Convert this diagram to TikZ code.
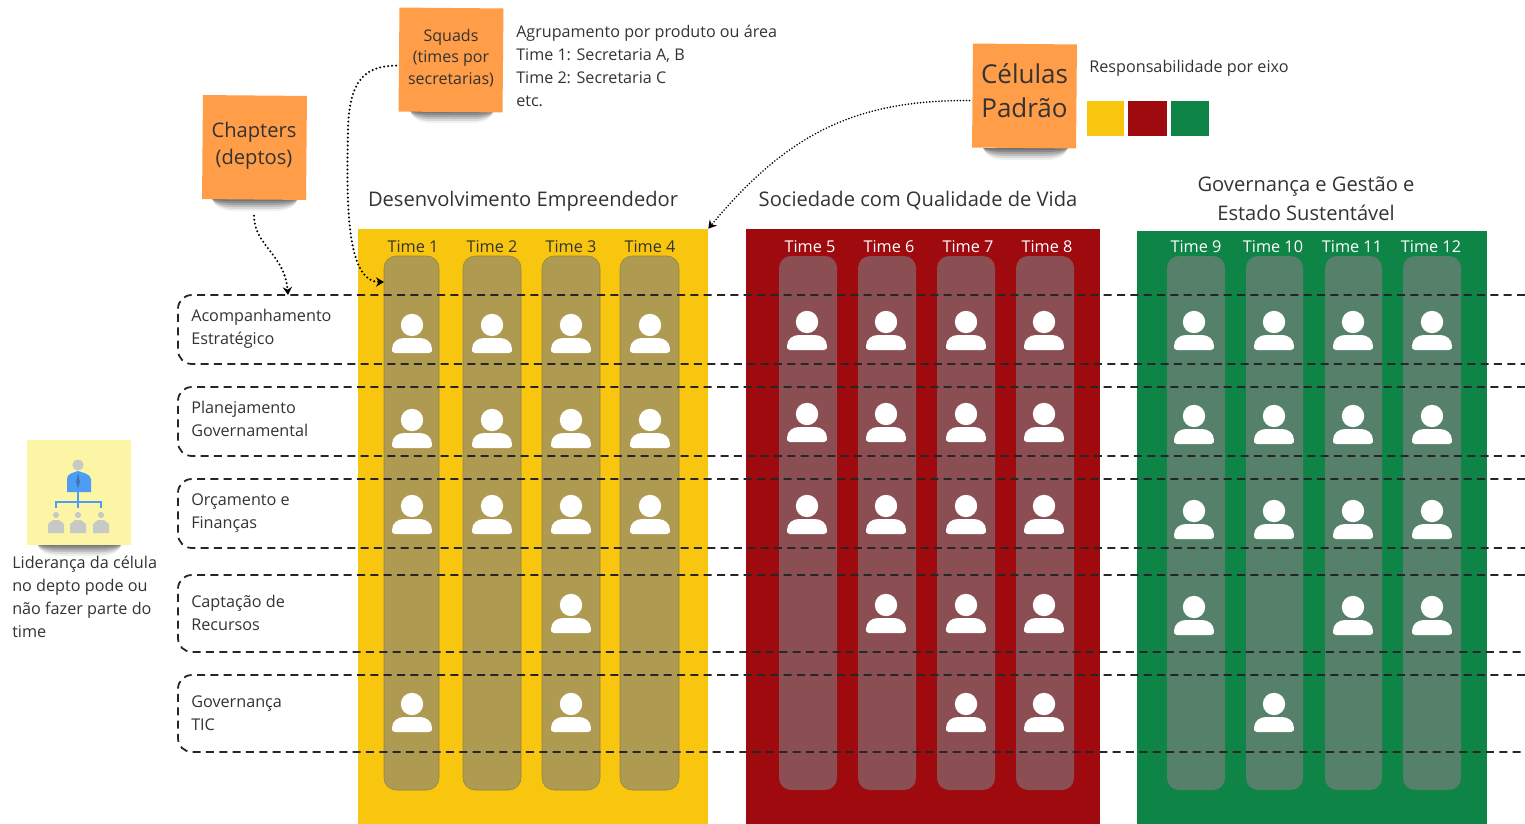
\documentclass[tikz,border=0pt]{standalone}
\usepackage{fontspec}
\setmainfont{Open Sans}
\usetikzlibrary{arrows.meta,calc}
\definecolor{ink}{HTML}{333333}
\definecolor{axisY}{HTML}{F9C60F}
\definecolor{axisR}{HTML}{9E0A0E}
\definecolor{axisG}{HTML}{0E8446}
\definecolor{colY}{HTML}{AE9A50}
\definecolor{colR}{HTML}{8B4E52}
\definecolor{colG}{HTML}{558069}
\definecolor{sticky}{HTML}{FF9D48}
\definecolor{stickyY}{HTML}{FDF5A6}
\definecolor{iconB}{HTML}{4D9DF5}
\definecolor{iconG}{HTML}{C6C9C6}
\tikzset{
  x=0.75pt,y=-0.75pt,
  txt/.style={text=ink,inner sep=0pt,align=left,anchor=west,font=\fontsize{12.15}{17.25}\selectfont},
  title/.style={text=ink,inner sep=0pt,align=center,font=\fontsize{15.1}{21.5}\selectfont},
  timeY/.style={text=black!80,inner sep=0pt,font=\fontsize{12.2}{14}\selectfont},
  timeW/.style={text=white,inner sep=0pt,font=\fontsize{12.2}{14}\selectfont},
  note/.style={fill=sticky,inner sep=0pt,rotate=-0.5,minimum width=78pt,minimum height=78pt},
  notetext/.style={text=ink,inner sep=0pt,align=center},
  band/.style={black!85,line width=1.35pt,dash pattern=on 6pt off 4pt},
  link/.style={black,line width=1.7pt,line cap=round,dash pattern=on 0pt off 3pt,-{Stealth[length=6pt,width=7pt]}},
  finelink/.style={link,line width=1.35pt,dash pattern=on 0pt off 2.3pt},
  person/.pic={
    \fill[white] (0,-9) circle[radius=8.4pt];
    \fill[white] (-17,19) -- (17,19) .. controls (20,19) and (20,17) .. (20,15) .. controls (20,8) and (14,4) .. (8,4) -- (-8,4) .. controls (-14,4) and (-20,8) .. (-20,15) .. controls (-20,17) and (-20,19) .. (-17,19) -- cycle;
  },
  smallman/.pic={
    \fill[iconG] (0,-5) circle[radius=2.3pt];
    \fill[iconG] (-8,13) -- (-8,4) -- (-3,0) -- (3,0) -- (8,4) -- (8,13) -- cycle;
  }
}
\newcommand{\blockat}[7]{\node[#2,inner sep=0pt,minimum width={(#4-#3)*0.75pt},minimum height={(#6-#5)*0.75pt},#7] (#1) at ({(#3+#4)/2},{(#5+#6)/2}) {};}
\newcommand{\bandpath}[2]{%
  \draw[band] (1525,#1) -- (192,#1) .. controls (184,#1) and (178,{#1+6}) .. (178,{#1+14}) -- (178,{#2-14}) .. controls (178,{#2-6}) and (184,#2) .. (192,#2) -- (1525,#2);}
\newcommand{\noteshadow}[3]{%
  \foreach \d/\o in {2/.16,4/.16,6/.14,8/.12,10/.09,12/.06}
    {\fill[black,opacity=\o] (#1,#3) -- (#2,#3) .. controls ({#2-2},{#3+\d*.6}) and ({#2-10},{#3+\d}) .. ({#2-22},{#3+\d}) -- ({#1+22},{#3+\d}) .. controls ({#1+10},{#3+\d}) and ({#1+2},{#3+\d*.6}) .. (#1,#3) -- cycle;}}
\begin{document}
\begin{tikzpicture}
\useasboundingbox (0,0) rectangle (1525,824);
\clip (0,0) rectangle (1525,824);
% axis blocks
\blockat{axisA}{fill=axisY}{358}{708}{229}{824}{}
\blockat{axisB}{fill=axisR}{746}{1100}{229}{824}{}
\blockat{axisC}{fill=axisG}{1137}{1487}{231}{824}{}
% team columns
\foreach \n/\a/\b in {t1/384/439,t2/463/521,t3/542/600,t4/620/679}
  {\blockat{\n}{fill=colY,draw=black!15!colY,line width=.4pt,rounded corners=9pt}{\a}{\b}{256}{790}{}}
\foreach \n/\a/\b in {t5/779/837,t6/858/916,t7/937/995,t8/1016/1074}
  {\blockat{\n}{fill=colR,rounded corners=9pt}{\a}{\b}{256}{790}{}}
\foreach \n/\a/\b in {t9/1167/1225,t10/1246/1303,t11/1325/1382,t12/1403/1461}
  {\blockat{\n}{fill=colG,rounded corners=9pt}{\a}{\b}{256}{790}{}}
% team labels
\foreach \x/\t in {413/Time 1,492/Time 2,571/Time 3,650/Time 4}
  {\node[timeY] (lab\x) at (\x,247) {\t};}
\foreach \x/\t in {810/Time 5,889/Time 6,968/Time 7,1047/Time 8,1196/Time 9,1273/Time 10,1352/Time 11,1431/Time 12}
  {\node[timeW] (lab\x) at (\x,247) {\t};}
% dashed rows
\bandpath{295}{364}
\bandpath{387}{456}
\bandpath{479}{548}
\bandpath{575}{652}
\bandpath{675}{752}
% row labels
\node[txt] (r1) at (191,329) {Acompanhamento\\Estratégico};
\node[txt] (r2) at (191,418.5) {Planejamento\\Governamental};
\node[txt] (r3) at (191,513.5) {Orçamento e\\Finanças};
\node[txt] (r4) at (191,612.5) {Captação de\\Recursos};
\node[txt] (r5) at (191,713.5) {Governança\\TIC};
% people
\foreach \x/\y in {412/334,492/334,571/334,650/334,412/429,492/429,571/429,650/429,412/515,492/515,571/515,650/515,571/614,412/713,571/713,
  807/331,886/331,966/331,1044/331,807/423,886/423,966/423,1044/423,807/515,886/515,966/515,1044/515,886/614,966/614,1044/614,966/713,1044/713,
  1194/331,1274/331,1353/331,1432/331,1194/425,1274/425,1353/425,1432/425,1194/520,1274/520,1353/520,1432/520,1194/616,1353/616,1432/616,1274/713}
  {\pic at (\x,\y) {person};}
% section titles
\node[title] (s1) at (523,201) {Desenvolvimento Empreendedor};
\node[title] (s2) at (918,201) {Sociedade com Qualidade de Vida};
\node[title] (s3) at (1306,199) {Governança e Gestão e\\Estado Sustentável};
% sticky notes
\noteshadow{212}{298}{199}
\noteshadow{410}{494}{111}
\noteshadow{983}{1068}{148}
\noteshadow{37}{122}{544}
\node[note] (chapters) at (254.5,147.5) {};
\node[notetext,font=\fontsize{15.1}{20}\selectfont] (chaptxt) at (254,146) {Chapters\\(deptos)};
\node[note] (squads) at (451,60) {};
\node[notetext,font=\fontsize{12}{16.1}\selectfont] (squtxt) at (451,58) {Squads\\(times por\\secretarias)};
\node[note] (celulas) at (1024.5,96) {};
\node[notetext,font=\fontsize{19.5}{25.7}\selectfont] (celntxt) at (1024.5,91) {Células\\Padrão};
\node[fill=stickyY,inner sep=0pt,minimum width=78pt,minimum height=78.5pt] (leader) at (79,492.5) {};
% leader icon
\fill[iconG] (78,465) circle[radius=4.2pt];
\fill[iconB] (67,492) -- (67,479) .. controls (67,474) and (72,473) .. (78,471) .. controls (84,473) and (90,474) .. (91,479) -- (91,492) -- cycle;
\fill[black!25!iconB] (78,473) -- (80,482) -- (78,488) -- (76,482) -- cycle;
\draw[iconB,line width=1.3pt] (78,492) -- (78,502) (56,508) -- (56,502) -- (101,502) -- (101,508) (78,502) -- (78,508);
\pic at (56,520) {smallman};
\pic at (78,520) {smallman};
\pic at (101,520) {smallman};
\node[txt,anchor=north west] (leadtxt) at (12,556) {Liderança da célula\\no depto pode ou\\não fazer parte do\\time};
% side text
\node[txt,anchor=north west,font=\fontsize{12.1}{17.25}\selectfont] (sqtxt) at (516,25) {Agrupamento por produto ou área\\Time 1: Secretaria A, B\\Time 2: Secretaria C\\etc.};
\node[txt] (celtxt) at (1089,68) {Responsabilidade por eixo};
% legend
\blockat{leg1}{fill=axisY}{1087}{1124}{101}{136}{}
\blockat{leg2}{fill=axisR}{1128}{1167}{101}{136}{}
\blockat{leg3}{fill=axisG}{1171}{1209}{101}{136}{}
% connectors
\coordinate (chapEnd) at (288,295);
\coordinate (sqEnd) at (384,282);
\draw[link,shorten <=12pt] (chapters.south) .. controls (254,245) and (285,255) .. (chapEnd);
\draw[link,shorten <=2pt] ($(squads.west)+(0,6)$) .. controls (365,66) and (349,80) .. (348,130) .. controls (347,190) and (344,282) .. (sqEnd);
\draw[finelink,shorten <=2pt] ($(celulas.west)+(0,5)$) .. controls (860,100) and (790,130) .. (axisA.north east);
\end{tikzpicture}
\end{document}
